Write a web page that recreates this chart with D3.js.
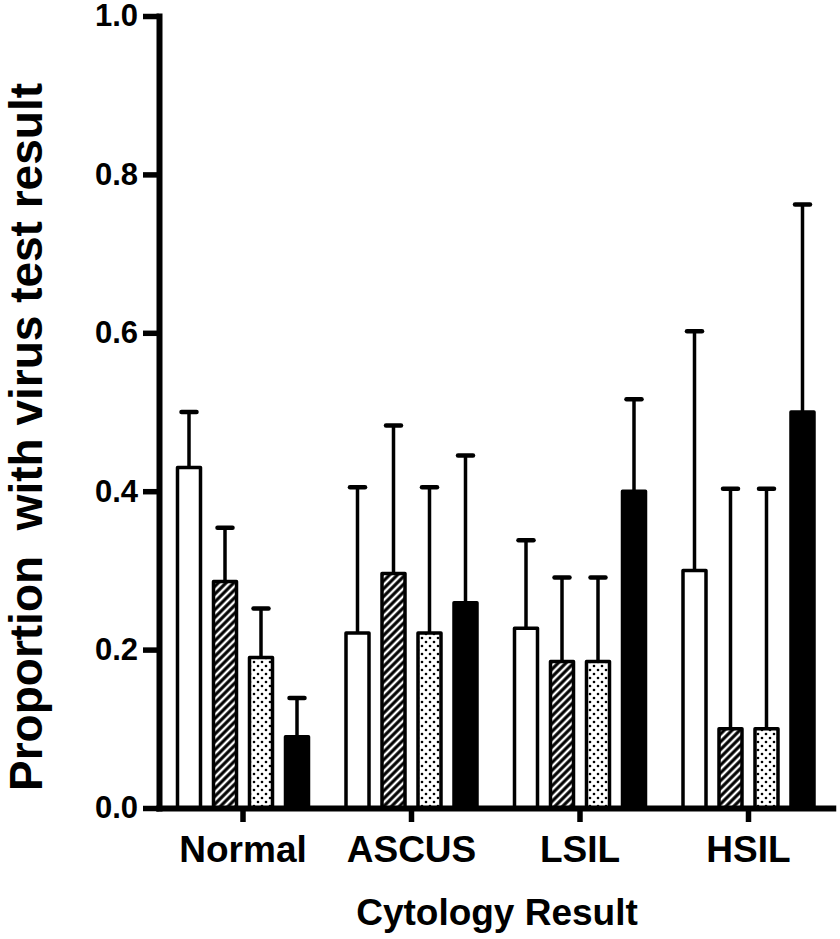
<!DOCTYPE html>
<html>
<head>
<meta charset="utf-8">
<script src="https://cdn.jsdelivr.net/npm/d3@7"></script>
<style>
  html, body { margin: 0; padding: 0; background: #fff; }
  svg { display: block; }
  text { font-family: "Liberation Sans", Arial, Helvetica, sans-serif; font-weight: bold; fill: #000; }
</style>
</head>
<body>
<svg id="chart" width="840" height="939"></svg>
<script>
// ---- Data ----
const categories = ["Normal", "ASCUS", "LSIL", "HSIL"];
const seriesNames = ["Series 1", "Series 2", "Series 3", "Series 4"];
const seriesFills = ["white", "hatch", "dots", "black"];
const valuesS1 = [0.430, 0.221, 0.227, 0.300];
const valuesS2 = [0.286, 0.296, 0.185, 0.100];
const valuesS3 = [0.190, 0.221, 0.185, 0.100];
const valuesS4 = [0.090, 0.259, 0.400, 0.500];
const upperS1 = [0.500, 0.405, 0.338, 0.602];
const upperS2 = [0.354, 0.483, 0.291, 0.403];
const upperS3 = [0.252, 0.405, 0.291, 0.403];
const upperS4 = [0.139, 0.445, 0.516, 0.762];
const yTicks = [0.0, 0.2, 0.4, 0.6, 0.8, 1.0];
const yTickLabels = ["0.0", "0.2", "0.4", "0.6", "0.8", "1.0"];
const xTitle = "Cytology Result";
const yTitle = "Proportion  with virus test result";

const values = [valuesS1, valuesS2, valuesS3, valuesS4];
const uppers = [upperS1, upperS2, upperS3, upperS4];

const rows = [];
categories.forEach((c, ci) => {
  seriesNames.forEach((s, si) => {
    rows.push({ cat: c, series: s, si: si, value: values[si][ci], upper: uppers[si][ci] });
  });
});

// ---- Layout ----
const svg = d3.select("#chart");
const y = d3.scaleLinear().domain([0, 1]).range([808, 16]);
const x = d3.scaleBand().domain(categories).range([158.75, 832.75]).padding(0);
const xi = d3.scaleBand().domain(seriesNames).range([-65.5, 65.5]).paddingInner(0.361).paddingOuter(0);

// ---- Patterns ----
const defs = svg.append("defs");
const hatch = defs.append("pattern")
  .attr("id", "hatch").attr("patternUnits", "userSpaceOnUse")
  .attr("width", 5.5).attr("height", 5.5)
  .attr("patternTransform", "rotate(45)");
hatch.append("rect").attr("width", 5.5).attr("height", 5.5).attr("fill", "#000");
hatch.append("line").attr("x1", 2.75).attr("y1", 0).attr("x2", 2.75).attr("y2", 5.5)
  .attr("stroke", "#fff").attr("stroke-width", 2.4);

const dots = defs.append("pattern")
  .attr("id", "dots").attr("patternUnits", "userSpaceOnUse")
  .attr("width", 8).attr("height", 8);
dots.append("rect").attr("width", 8).attr("height", 8).attr("fill", "#fff");
dots.append("circle").attr("cx", 2).attr("cy", 2).attr("r", 1.3).attr("fill", "#000");
dots.append("circle").attr("cx", 6).attr("cy", 6).attr("r", 1.3).attr("fill", "#000");

const fillFor = f => f === "white" ? "#fff" : f === "black" ? "#000" : `url(#${f})`;

// ---- Bars ----
const g = svg.append("g");
const barG = g.selectAll("g.bar").data(rows).enter().append("g").attr("class", "bar");
const cx = d => x(d.cat) + x.bandwidth() / 2 + xi(d.series) + xi.bandwidth() / 2;

// error bars (upper only)
barG.append("line")
  .attr("x1", cx).attr("x2", cx)
  .attr("y1", d => y(d.value))
  .attr("y2", d => y(d.upper))
  .attr("stroke", "#000").attr("stroke-width", 3.5);
barG.append("line")
  .attr("x1", d => cx(d) - 7.5)
  .attr("x2", d => cx(d) + 7.5)
  .attr("y1", d => y(d.upper))
  .attr("y2", d => y(d.upper))
  .attr("stroke", "#000").attr("stroke-width", 4.5).attr("stroke-linecap", "round");

barG.append("rect")
  .attr("x", d => x(d.cat) + x.bandwidth() / 2 + xi(d.series))
  .attr("width", xi.bandwidth())
  .attr("y", d => y(d.value))
  .attr("height", d => y(0) - y(d.value))
  .attr("fill", d => fillFor(seriesFills[d.si]))
  .attr("stroke", "#000").attr("stroke-width", 3.5).attr("stroke-linejoin", "round");

// ---- Axes ----
const yAxis = d3.axisLeft(y).tickValues(yTicks)
  .tickFormat((d, i) => yTickLabels[i])
  .tickSize(16).tickSizeOuter(0).tickPadding(5);
const yG = svg.append("g").attr("transform", "translate(159,0)").call(yAxis);
yG.select(".domain").attr("stroke-width", 6).attr("stroke-linecap", "square");
yG.selectAll(".tick line").attr("stroke-width", 5.5);
yG.selectAll(".tick text").style("font-size", "31px").style("font-weight", "bold")
  .attr("font-family", null);

const xAxis = d3.axisBottom(x).tickSize(14).tickSizeOuter(0).tickPadding(14);
const xG = svg.append("g").attr("transform", "translate(0,808)").call(xAxis);
xG.select(".domain").attr("stroke-width", 6).attr("stroke-linecap", "square");
xG.selectAll(".tick line").attr("stroke-width", 5.5);
xG.selectAll(".tick text").style("font-size", "37px").style("font-weight", "bold")
  .attr("font-family", null);

svg.selectAll(".domain, .tick line").attr("stroke", "#000");

// ---- Titles ----
svg.append("text")
  .attr("x", 497).attr("y", 925)
  .attr("text-anchor", "middle")
  .style("font-size", "37px")
  .text(xTitle);

svg.append("text")
  .attr("transform", "translate(42,437) rotate(-90)")
  .attr("text-anchor", "middle")
  .style("font-size", "46px")
  .style("white-space", "pre")
  .attr("xml:space", "preserve")
  .text(yTitle);
</script>
</body>
</html>
